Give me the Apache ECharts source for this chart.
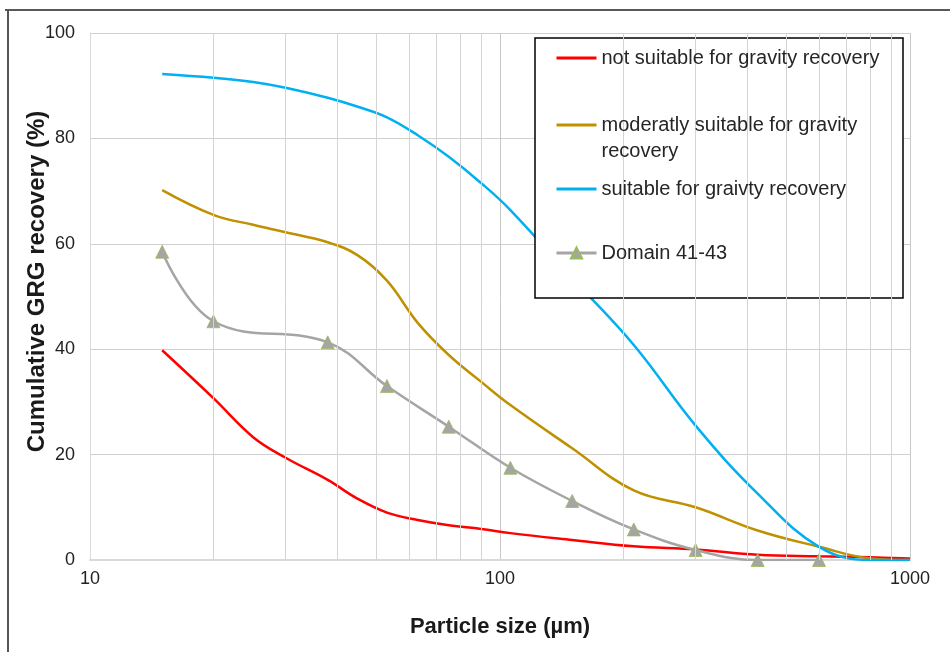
<!DOCTYPE html>
<html>
<head>
<meta charset="utf-8">
<script src="https://cdn.jsdelivr.net/npm/echarts@6/dist/echarts.min.js"></script>
<style>html,body{margin:0;padding:0;background:#fff;}#c{width:950px;height:652px;}</style>
</head>
<body>
<div id="c"></div>
<script>
// ---- data ----
const seriesNames = [
  'not suitable for gravity recovery',
  'moderatly suitable for gravity recovery',
  'suitable for graivty recovery',
  'Domain 41-43'
];
const curveSizes = [15, 20, 25, 30, 38, 45, 53, 63, 75, 90, 106, 150, 212, 300, 425, 600, 800, 1000];
const notSuitable = [39.8, 30.7, 23.3, 19.4, 15.2, 11.6, 9.0, 7.6, 6.6, 5.9, 5.1, 3.8, 2.6, 2.0, 1.0, 0.7, 0.5, 0.3];
const moderately  = [70.2, 65.5, 63.6, 62.2, 60.3, 57.8, 53.0, 45.0, 38.9, 33.8, 29.4, 21.2, 13.2, 10.0, 5.6, 2.5, 0.3, 0.0];
const suitable    = [92.2, 91.5, 90.7, 89.6, 87.7, 86.0, 84.0, 80.6, 76.5, 71.5, 66.4, 53.5, 40.8, 25.5, 12.6, 2.5, 0.0, 0.0];
const domainSizes = [15, 20, 38, 53, 75, 106, 150, 212, 300, 425, 600];
const domain      = [58.5, 45.3, 41.3, 33.0, 25.3, 17.5, 11.2, 5.8, 1.9, 0.0, 0.0];
const yTicks = [0, 20, 40, 60, 80, 100];
const xMajorTicks = [10, 100, 1000];
const xMinorTicks = [20, 30, 40, 50, 60, 70, 80, 90, 200, 300, 400, 500, 600, 700, 800, 900];
const xTitle = 'Particle size (µm)';
const yTitle = 'Cumulative GRG recovery (%)';

const pairs = (xs, ys) => xs.map((x, i) => [x, ys[i]]);
const FONT = "'Liberation Sans', Arial, sans-serif";
const colors = ['#ff0000', '#bf9000', '#00b0f0', '#a5a5a5'];

const chart = echarts.init(document.getElementById('c'), null, {renderer: 'canvas'});

function legendFor(i, top, extra) {
  return Object.assign({
    data: [seriesNames[i]],
    left: 555, top: top, padding: 0,
    itemWidth: 40, itemHeight: 14,
    z: 10,
    selectedMode: false,
    lineStyle: {width: 3},
    itemStyle: i === 3 ? {} : {color: 'rgba(0,0,0,0)', borderWidth: 0, opacity: 0},
    textStyle: {fontFamily: FONT, fontSize: 20, color: '#262626', lineHeight: 24}
  }, extra || {});
}

chart.setOption({
  animation: false,
  backgroundColor: '#ffffff',
  grid: {left: 90, right: 40, top: 33, bottom: 92, containLabel: false},
  xAxis: {
    type: 'log', logBase: 10, min: 10, max: 1000,
    name: xTitle, nameLocation: 'middle', nameGap: 56,
    nameTextStyle: {fontFamily: FONT, fontSize: 22, fontWeight: 'bold', color: '#1a1a1a'},
    axisLine: {show: true, lineStyle: {color: '#d9d9d9', width: 2}},
    axisTick: {show: false},
    axisLabel: {fontFamily: FONT, fontSize: 18, color: '#222', margin: 10,
      formatter: v => (xMajorTicks.indexOf(Math.round(v)) >= 0 ? String(Math.round(v)) : '')},
    splitLine: {show: true, lineStyle: {color: '#c8c8c8', width: 1}}
  },
  yAxis: {
    type: 'value', min: 0, max: 100, interval: 20,
    name: yTitle, nameLocation: 'middle', nameGap: 41, nameRotate: 90, nameMoveOverlap: false,
    nameTextStyle: {fontFamily: FONT, fontSize: 24, fontWeight: 'bold', color: '#1a1a1a', padding: [0, 0, 0, 30]},
    axisLine: {show: true, lineStyle: {color: '#d9d9d9', width: 1}},
    axisTick: {show: false},
    axisLabel: {fontFamily: FONT, fontSize: 18, color: '#222', margin: 15,
      formatter: v => (yTicks.indexOf(v) >= 0 ? String(v) : '')},
    splitLine: {show: true, lineStyle: {color: '#d0d0d0', width: 1}}
  },
  legend: [
    legendFor(0, 46),
    legendFor(1, 86, {textStyle: {fontFamily: FONT, fontSize: 20, color: '#262626', lineHeight: 26},
      formatter: () => ' \nmoderatly suitable for gravity\nrecovery'}),
    legendFor(2, 177),
    legendFor(3, 241)
  ],
  graphic: [
    {type: 'rect', z: 5, shape: {x: 535, y: 38, width: 368, height: 260},
      style: {fill: '#ffffff', stroke: '#000000', lineWidth: 1.5}},
    {type: 'line', z: 5, shape: {x1: 5, y1: 10, x2: 950, y2: 10}, style: {stroke: '#222', lineWidth: 1.5}},
    {type: 'line', z: 5, shape: {x1: 8, y1: 10, x2: 8, y2: 652}, style: {stroke: '#555', lineWidth: 2}}
  ],
  series: [
    {
      name: 'minor-grid', type: 'line', data: [], z: 1, silent: true,
      markLine: {
        silent: true, symbol: 'none', label: {show: false},
        lineStyle: {color: '#d4d4d4', width: 1, type: 'solid'},
        data: xMinorTicks.map(v => ({xAxis: v}))
      }
    },
    {name: seriesNames[0], type: 'line', data: pairs(curveSizes, notSuitable), smooth: 0.4,
      showSymbol: false, symbol: 'none', z: 3, lineStyle: {color: colors[0], width: 2.5}, itemStyle: {color: colors[0]}},
    {name: seriesNames[1], type: 'line', data: pairs(curveSizes, moderately), smooth: 0.4,
      showSymbol: false, symbol: 'none', z: 3, lineStyle: {color: colors[1], width: 2.5}, itemStyle: {color: colors[1]}},
    {name: seriesNames[2], type: 'line', data: pairs(curveSizes, suitable), smooth: 0.4,
      showSymbol: false, symbol: 'none', z: 3, lineStyle: {color: colors[2], width: 2.5}, itemStyle: {color: colors[2]}},
    {name: seriesNames[3], type: 'line', data: pairs(domainSizes, domain), smooth: 0.4,
      symbol: 'triangle', symbolSize: 13, z: 4,
      lineStyle: {color: colors[3], width: 2.5},
      itemStyle: {color: colors[3], borderColor: '#9bbb59', borderWidth: 0.8}}
  ]
});
</script>
</body>
</html>
